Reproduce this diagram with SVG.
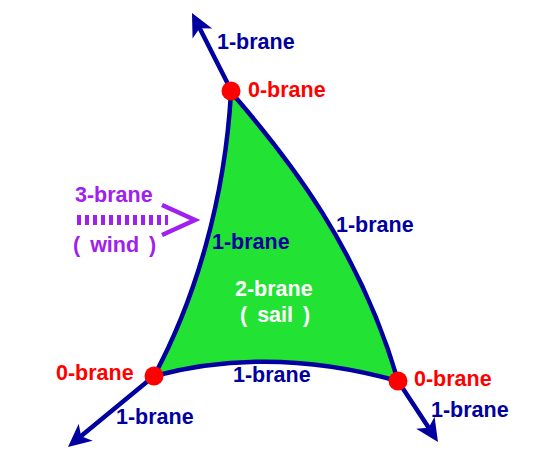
<svg xmlns="http://www.w3.org/2000/svg" width="556" height="462" viewBox="0 0 556 462">
<style>
text{font-family:"Liberation Sans",Arial,sans-serif;font-weight:bold;font-size:21.5px}
.b{fill:#0000a0}
.r{fill:#ff0000}
.w{fill:#ffffff}
.p{fill:#a020f0}
.ws{word-spacing:4px}
.edge{fill:none;stroke:#0000a0;stroke-width:4.5;stroke-linecap:round}
</style>
<defs>
<marker id="ah" markerUnits="userSpaceOnUse" markerWidth="50" markerHeight="50" viewBox="-25 -25 50 50" refX="0" refY="0" orient="auto">
<path d="M10,0 L-13,-11 L-7,0 L-13,11 Z" fill="#0000a0"/>
</marker>
</defs>
<rect width="556" height="462" fill="#ffffff"/>
<g id="sail">
<path d="M231,92 C290,160 360,250 398,381 Q270,345 154,376 C195,300 225,200 231,92 Z" fill="#22e233"/>
<text class="w" x="235" y="296">2-brane</text>
<text class="w ws" x="240" y="322">( sail )</text>
</g>
<g id="connectors">
<path class="edge" d="M231,92 C290,160 360,250 398,381"/>
<path class="edge" d="M154,376 Q270,345 398,381"/>
<path class="edge" d="M231,92 C225,200 195,300 154,376"/>
<line class="edge" x1="231" y1="90" x2="196.5" y2="21.9" stroke-linecap="butt" marker-end="url(#ah)"/>
<line class="edge" x1="154" y1="376" x2="75.7" y2="440.6" stroke-linecap="butt" marker-end="url(#ah)"/>
<line class="edge" x1="398" y1="381" x2="432.5" y2="433.6" stroke-linecap="butt" marker-end="url(#ah)"/>
</g>
<g id="vertex-top">
<circle cx="231" cy="91" r="9.5" fill="#ff0000"/>
<text class="r" x="248" y="97">0-brane</text>
</g>
<g id="vertex-left">
<circle cx="154" cy="376" r="9.5" fill="#ff0000"/>
<text class="r" x="56" y="380">0-brane</text>
</g>
<g id="vertex-right">
<circle cx="398" cy="381" r="9.5" fill="#ff0000"/>
<text class="r" x="414" y="386">0-brane</text>
</g>
<g id="labels">
<text class="b" x="217" y="49">1-brane</text>
<text class="b" x="336" y="232">1-brane</text>
<text class="b" x="212" y="249">1-brane</text>
<text class="b" x="233" y="382">1-brane</text>
<text class="b" x="116" y="424">1-brane</text>
<text class="b" x="431" y="417">1-brane</text>
</g>
<g id="wind">
<text class="p" x="75" y="202">3-brane</text>
<line x1="77" y1="220" x2="168" y2="220" stroke="#a020f0" stroke-width="10" stroke-dasharray="4 4"/>
<polyline points="162,205 195,220 162,235" fill="none" stroke="#a020f0" stroke-width="4.5"/>
<text class="p ws" x="73" y="252">( wind )</text>
</g>
</svg>
